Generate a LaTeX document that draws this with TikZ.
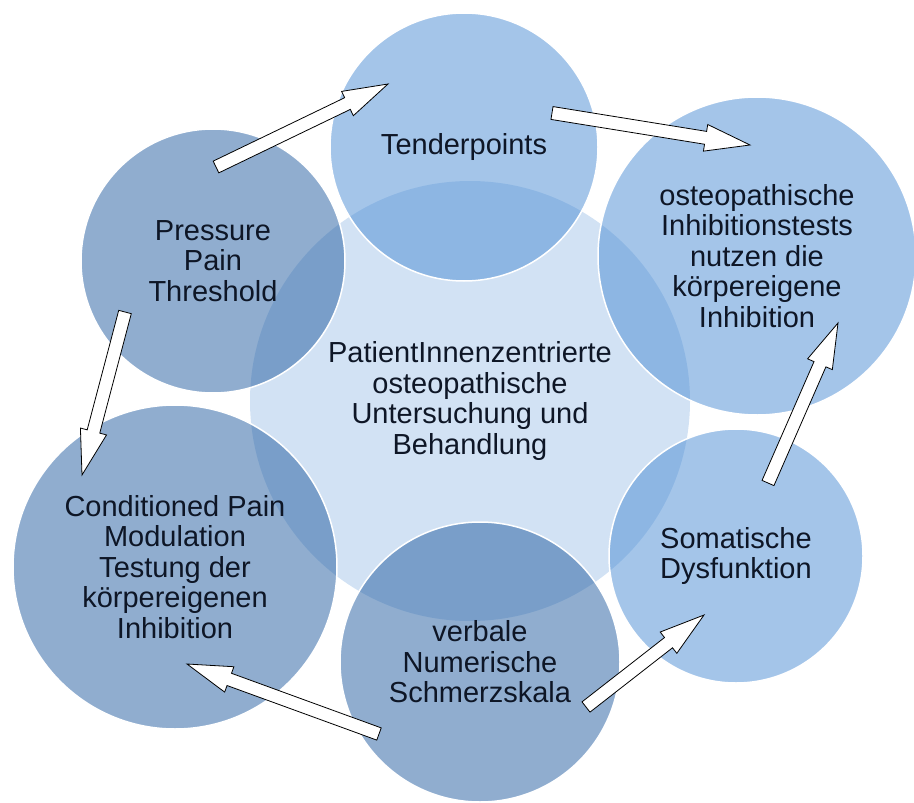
\documentclass[tikz,border=0pt]{standalone}
\usepackage{fontspec}
\setmainfont{Liberation Sans}
\usetikzlibrary{calc}
\definecolor{midblue}{RGB}{210,226,244}
\definecolor{dkblue}{RGB}{33,92,160}
\definecolor{ltblue}{RGB}{74,140,212}
\definecolor{txtcol}{RGB}{14,22,38}
% white block arrow from #1 (tail) to #2 (tip)
\newcommand{\blockarrow}[2]{%
\coordinate (hb) at ($(#2)!45pt!(#1)$);
\draw[blk] ($(#1)!6.5pt!90:(#2)$) -- ($(hb)!6.5pt!-90:(#1)$) -- ($(hb)!13.5pt!-90:(#1)$) -- (#2)
  -- ($(hb)!13.5pt!90:(#1)$) -- ($(hb)!6.5pt!90:(#1)$) -- ($(#1)!6.5pt!-90:(#2)$) -- cycle;}
\begin{document}
\begin{tikzpicture}[x=1pt, y=-1pt,
  every node/.style={font=\fontsize{29}{30.5}\selectfont, text=txtcol, align=center, inner sep=0pt},
  mid/.style={circle, fill=midblue},
  dkc/.style={circle, draw=white, line width=1.5pt, fill=dkblue, fill opacity=.5, text opacity=1},
  ltc/.style={circle, draw=white, line width=1.5pt, fill=ltblue, fill opacity=.5, text opacity=1},
  blk/.style={draw=black, fill=white, line width=.8pt}]
\useasboundingbox (0,0) rectangle (914,803);
\node[mid, minimum size=440pt] (crc0) at (470,401){PatientInnenzentrierte\\osteopathische\\Untersuchung und\\Behandlung};
\node[ltc, minimum size=268pt] (crc1) at (464,147){Tenderpoints};
\node[ltc, minimum size=318pt] (crc2) at (757,256){osteopathische\\Inhibitionstests\\nutzen die\\körpereigene\\Inhibition};
\node[ltc, minimum size=254pt] (crc3) at (736,556){Somatische\\Dysfunktion};
\node[dkc, minimum size=280pt] (crc4) at (480,662){verbale\\Numerische\\Schmerzskala};
\node[dkc, minimum size=324pt] (crc5) at (175,567){Conditioned Pain\\Modulation\\Testung der\\körpereigenen\\Inhibition};
\node[dkc, minimum size=264pt] (crc6) at (213,261){Pressure\\Pain\\Threshold};
% arrow ends
\coordinate (a1s) at (216,167);
\coordinate (a1e) at (388,84);
\coordinate (a2s) at (552,113);
\coordinate (a2e) at (750,145);
\coordinate (a3s) at (768,483);
\coordinate (a3e) at (838,323);
\coordinate (a4s) at (586,707);
\coordinate (a4e) at (704,615);
\coordinate (a5s) at (379,734);
\coordinate (a5e) at (187,664);
\coordinate (a6s) at (125,312);
\coordinate (a6e) at (82,475);
\blockarrow{a1s}{a1e}
\blockarrow{a2s}{a2e}
\blockarrow{a3s}{a3e}
\blockarrow{a4s}{a4e}
\blockarrow{a5s}{a5e}
\blockarrow{a6s}{a6e}
\end{tikzpicture}
\end{document}
